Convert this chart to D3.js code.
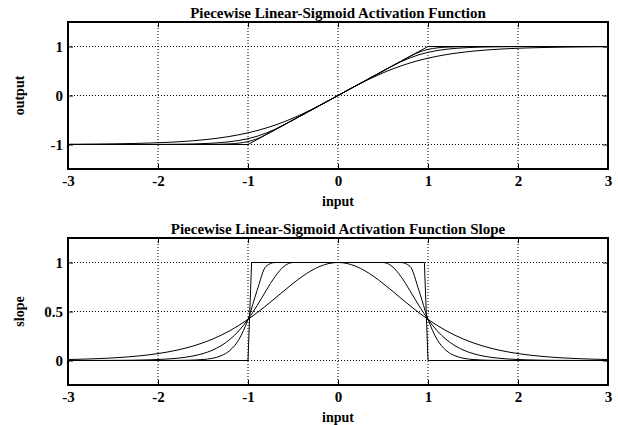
<!DOCTYPE html>
<html><head><meta charset="utf-8">
<script src="https://cdn.jsdelivr.net/npm/d3@7/dist/d3.min.js"></script>
<style>
html,body{margin:0;padding:0;background:#fff;}
text{font-family:"Liberation Serif","Times New Roman",serif;font-weight:bold;fill:#000;}
</style></head><body>
<svg id="c" width="618" height="425"></svg>
<script>
// ---- data ----
const xs = [-3.0,-2.9,-2.8,-2.7,-2.6,-2.5,-2.4,-2.3,-2.2,-2.1,-2.0,-1.9,-1.8,-1.7,-1.6,-1.5,-1.4,-1.3,-1.2,-1.1,-1.0,-0.9,-0.8,-0.7,-0.6,-0.5,-0.4,-0.3,-0.2,-0.1,0.0,0.1,0.2,0.3,0.4,0.5,0.6,0.7,0.8,0.9,1.0,1.1,1.2,1.3,1.4,1.5,1.6,1.7,1.8,1.9,2.0,2.1,2.2,2.3,2.4,2.5,2.6,2.7,2.8,2.9,3.0];

// output curves
const outA0 = [-0.9951,-0.9940,-0.9926,-0.9910,-0.9890,-0.9866,-0.9837,-0.9801,-0.9757,-0.9705,-0.9640,-0.9562,-0.9468,-0.9354,-0.9217,-0.9051,-0.8854,-0.8617,-0.8337,-0.8005,-0.7616,-0.7163,-0.6640,-0.6044,-0.5370,-0.4621,-0.3799,-0.2913,-0.1974,-0.0997,0,0.0997,0.1974,0.2913,0.3799,0.4621,0.5370,0.6044,0.6640,0.7163,0.7616,0.8005,0.8337,0.8617,0.8854,0.9051,0.9217,0.9354,0.9468,0.9562,0.9640,0.9705,0.9757,0.9801,0.9837,0.9866,0.9890,0.9910,0.9926,0.9940,0.9951];
const outA50 = [-1.0,-1.0,-0.9999,-0.9999,-0.9998,-0.9997,-0.9995,-0.9993,-0.9989,-0.9983,-0.9976,-0.9963,-0.9945,-0.9919,-0.9879,-0.9820,-0.9734,-0.9609,-0.9427,-0.9169,-0.8808,-0.8320,-0.7685,-0.6900,-0.5987,-0.5,-0.4,-0.3,-0.2,-0.1,0,0.1,0.2,0.3,0.4,0.5,0.5987,0.6900,0.7685,0.8320,0.8808,0.9169,0.9427,0.9609,0.9734,0.9820,0.9879,0.9919,0.9945,0.9963,0.9976,0.9983,0.9989,0.9993,0.9995,0.9997,0.9998,0.9999,0.9999,1.0,1.0];
const outA75 = [-1,-1,-1,-1,-1,-1,-1,-1,-1,-1,-1.0,-1.0,-0.9999,-0.9998,-0.9994,-0.9988,-0.9973,-0.9939,-0.9867,-0.9714,-0.9404,-0.8843,-0.7994,-0.7,-0.6,-0.5,-0.4,-0.3,-0.2,-0.1,0,0.1,0.2,0.3,0.4,0.5,0.6,0.7,0.7994,0.8843,0.9404,0.9714,0.9867,0.9939,0.9973,0.9988,0.9994,0.9998,0.9999,1.0,1.0,1,1,1,1,1,1,1,1,1,1];
const linX = [-3,-1,1,3];
const linOut = [-1,-1,1,1];

// slope curves
const slopeA0 = [0.0099,0.0120,0.0147,0.0179,0.0218,0.0266,0.0323,0.0394,0.0480,0.0581,0.0707,0.0857,0.1036,0.1250,0.1505,0.1808,0.2161,0.2575,0.3049,0.3592,0.4200,0.4869,0.5591,0.6347,0.7116,0.7864,0.8557,0.9151,0.9610,0.9901,1.0,0.9901,0.9610,0.9151,0.8557,0.7864,0.7116,0.6347,0.5591,0.4869,0.4200,0.3592,0.3049,0.2575,0.2161,0.1808,0.1505,0.1250,0.1036,0.0857,0.0707,0.0581,0.0480,0.0394,0.0323,0.0266,0.0218,0.0179,0.0147,0.0120,0.0099];
const slopeA50 = [0.0002,0.0003,0.0004,0.0006,0.0009,0.0013,0.0020,0.0030,0.0045,0.0066,0.0099,0.0147,0.0218,0.0323,0.0480,0.0707,0.1036,0.1505,0.2161,0.3049,0.4200,0.5591,0.7116,0.8557,0.9610,1,1,1,1,1,1,1,1,1,1,1,0.9610,0.8557,0.7116,0.5591,0.4200,0.3049,0.2161,0.1505,0.1036,0.0707,0.0480,0.0323,0.0218,0.0147,0.0099,0.0066,0.0045,0.0030,0.0020,0.0013,0.0009,0.0006,0.0004,0.0003,0.0002];
const slopeA75 = [0,0,0,0,0,0,0,0,0,0,0.0002,0.0004,0.0009,0.0020,0.0045,0.0099,0.0218,0.0480,0.1036,0.2161,0.4200,0.7116,0.9610,1,1,1,1,1,1,1,1,1,1,1,1,1,1,1,0.9610,0.7116,0.4200,0.2161,0.1036,0.0480,0.0218,0.0099,0.0045,0.0020,0.0009,0.0004,0.0002,0,0,0,0,0,0,0,0,0,0];
const stepX = [-3,-1.0,-0.96,0.96,1.0,3];
const stepSlope = [0,0,1,1,0,0];

const xTicks = [-3,-2,-1,0,1,2,3];
const yTicksTop = [-1,0,1];
const yTicksBot = [0,0.5,1];
const yTickLabelsBot = ["0","0.5","1"];

// ---- drawing ----
const svg = d3.select("#c");
const L = 68, R = 608;
const x = d3.scaleLinear().domain([-3,3]).range([L,R]);

function panel(top, bottom, ydom, yticks, ylabels, title, ylab, series) {
  const y = d3.scaleLinear().domain(ydom).range([bottom, top]);
  const g = svg.append("g");
  // grid
  g.selectAll(".gx").data(xTicks.slice(1,-1)).join("line")
    .attr("x1", d=>x(d)).attr("x2", d=>x(d)).attr("y1", top).attr("y2", bottom)
    .attr("stroke","#000").attr("stroke-width",1).attr("stroke-dasharray","1,2");
  g.selectAll(".gy").data(yticks).join("line")
    .attr("x1", L).attr("x2", R).attr("y1", d=>y(d)).attr("y2", d=>y(d))
    .attr("stroke","#000").attr("stroke-width",1).attr("stroke-dasharray","1,2");
  // curves
  const smooth = d3.line().x(d=>x(d[0])).y(d=>y(d[1])).curve(d3.curveMonotoneX);
  const straight = d3.line().x(d=>x(d[0])).y(d=>y(d[1]));
  series.forEach(s => {
    const pts = s.x.map((v,i)=>[v,s.y[i]]);
    g.append("path").attr("d", s.step ? straight(pts) : smooth(pts))
      .attr("fill","none").attr("stroke","#000").attr("stroke-width",1);
  });
  // axes with inward ticks
  const ax = d3.axisBottom(x).tickValues(xTicks).tickSize(-5).tickPadding(6).tickFormat(d=>String(d));
  const axT = d3.axisTop(x).tickValues(xTicks).tickSize(-5).tickFormat("");
  const ay = d3.axisLeft(y).tickValues(yticks).tickSize(-5).tickPadding(5).tickFormat((d,i)=>ylabels[i]);
  const ayR = d3.axisRight(y).tickValues(yticks).tickSize(-5).tickFormat("");
  [ [ax,`translate(0,${bottom})`], [axT,`translate(0,${top})`], [ay,`translate(${L},0)`], [ayR,`translate(${R},0)`] ].forEach(([a,t])=>{
    const gg = g.append("g").attr("transform",t).call(a);
    gg.select(".domain").remove();
    gg.selectAll("line").attr("stroke","#000").attr("stroke-width",1);
    gg.selectAll("text").style("font-size","15px").style("font-family","Liberation Serif, serif").style("font-weight","bold").attr("fill","#000");
  });
  g.append("rect").attr("x",L).attr("y",top).attr("width",R-L).attr("height",bottom-top)
    .attr("fill","none").attr("stroke","#000").attr("stroke-width",2);
  g.append("text").attr("x",(L+R)/2).attr("y",top-4).attr("text-anchor","middle").style("font-size","15px").text(title);
  g.append("text").attr("x",(L+R)/2).attr("y",bottom+37).attr("text-anchor","middle").style("font-size","14px").text("input");
  g.append("text").attr("transform",`translate(24,${(top+bottom)/2}) rotate(-90)`).attr("text-anchor","middle").style("font-size","14px").text(ylab);
}

panel(22, 169, [-1.5,1.5], yTicksTop, yTicksTop.map(String), "Piecewise Linear-Sigmoid Activation Function", "output", [
  {x: xs, y: outA0}, {x: xs, y: outA50}, {x: xs, y: outA75}, {x: linX, y: linOut, step: true}
]);
panel(238, 385, [-0.25,1.25], yTicksBot, yTickLabelsBot, "Piecewise Linear-Sigmoid Activation Function Slope", "slope", [
  {x: xs, y: slopeA0}, {x: xs, y: slopeA50}, {x: xs, y: slopeA75}, {x: stepX, y: stepSlope, step: true}
]);
</script>
</body></html>
